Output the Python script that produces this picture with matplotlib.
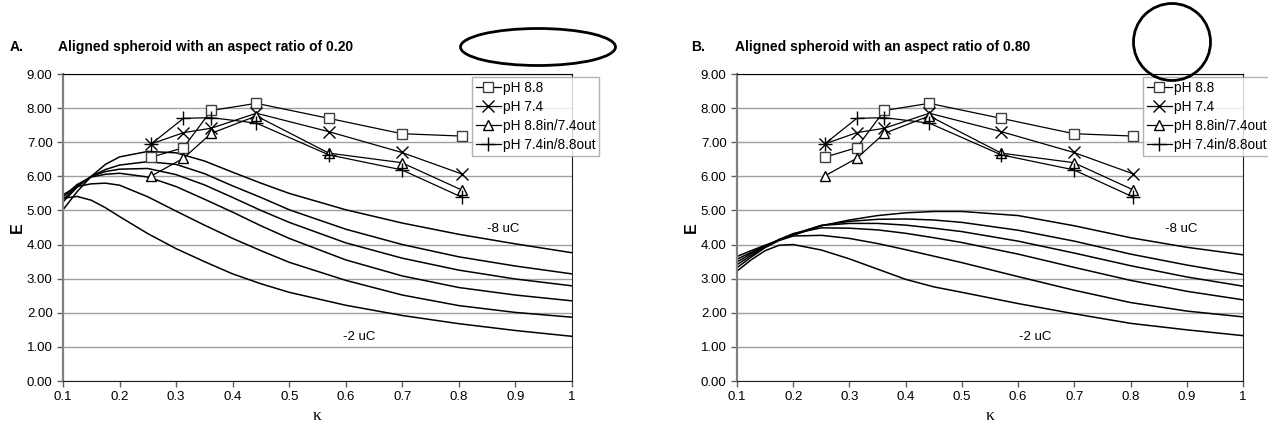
# Electrophoretic mobility E vs kappa for two aligned spheroids
import matplotlib.pyplot as plt
from matplotlib.patches import Ellipse

plt.rcParams['font.family'] = ['Liberation Sans', 'DejaVu Sans']

# kappa grid used for the charge curves
kx = [0.1, 0.125, 0.15, 0.175, 0.2, 0.25, 0.3, 0.35, 0.4, 0.45, 0.5, 0.6, 0.7, 0.8, 0.9, 1.0]

# panel A, aspect ratio 0.20, from -8 uC down to -2 uC
a_c1 = [5.02, 5.55, 6.00, 6.35, 6.57, 6.73, 6.69, 6.45, 6.12, 5.80, 5.50, 5.02, 4.63, 4.30, 4.02, 3.76]
a_c2 = [5.25, 5.68, 6.00, 6.20, 6.33, 6.43, 6.35, 6.08, 5.72, 5.38, 5.02, 4.45, 4.00, 3.64, 3.37, 3.14]
a_c3 = [5.32, 5.72, 6.00, 6.14, 6.21, 6.23, 6.05, 5.75, 5.38, 5.00, 4.65, 4.05, 3.60, 3.25, 2.99, 2.79]
a_c4 = [5.40, 5.76, 5.98, 6.06, 6.09, 5.98, 5.70, 5.33, 4.95, 4.55, 4.18, 3.55, 3.08, 2.74, 2.52, 2.35]
a_c5 = [5.46, 5.70, 5.78, 5.80, 5.74, 5.40, 4.98, 4.57, 4.18, 3.82, 3.48, 2.95, 2.52, 2.21, 2.01, 1.87]
a_c6 = [5.36, 5.41, 5.30, 5.08, 4.82, 4.32, 3.88, 3.50, 3.14, 2.85, 2.60, 2.22, 1.92, 1.68, 1.48, 1.31]

# panel B, aspect ratio 0.80
b_c1 = [3.65, 3.82, 3.98, 4.13, 4.27, 4.55, 4.72, 4.85, 4.93, 4.97, 4.97, 4.85, 4.55, 4.20, 3.92, 3.70]
b_c2 = [3.57, 3.77, 3.96, 4.14, 4.29, 4.56, 4.68, 4.74, 4.75, 4.72, 4.65, 4.42, 4.10, 3.72, 3.40, 3.12]
b_c3 = [3.49, 3.73, 3.94, 4.14, 4.31, 4.56, 4.62, 4.62, 4.57, 4.48, 4.38, 4.10, 3.75, 3.38, 3.05, 2.78]
b_c4 = [3.41, 3.68, 3.93, 4.15, 4.32, 4.49, 4.48, 4.43, 4.33, 4.20, 4.06, 3.72, 3.33, 2.95, 2.63, 2.38]
b_c5 = [3.32, 3.63, 3.91, 4.12, 4.25, 4.27, 4.18, 4.03, 3.85, 3.66, 3.47, 3.06, 2.66, 2.30, 2.05, 1.88]
b_c6 = [3.22, 3.55, 3.82, 3.98, 4.00, 3.84, 3.58, 3.28, 2.98, 2.76, 2.60, 2.27, 1.97, 1.69, 1.50, 1.33]

# measured points (same in both panels)
kappa = [0.256, 0.313, 0.362, 0.442, 0.570, 0.699, 0.805]
ph88 = [6.56, 6.84, 7.93, 8.14, 7.70, 7.25, 7.18]
ph74 = [6.95, 7.28, 7.41, 7.85, 7.31, 6.70, 6.07]
ph88in = [6.01, 6.53, 7.26, 7.77, 6.68, 6.40, 5.60]
ph74in = [6.95, 7.70, 7.72, 7.56, 6.63, 6.19, 5.39]

W, H = 1268, 426
fig = plt.figure(figsize=(W / 100, H / 100), dpi=100)


def make_panel(left, right, curves, title, letter, title_x, leg_x):
    ax = fig.add_axes([left / W, (H - 381) / H, (right - left) / W, (381 - 74) / H])
    for c in curves:
        ax.plot(kx, c, color='black', lw=1.1)
    ax.plot(kappa, ph88, color='black', lw=0.9, marker='s', ms=7, mfc='white',
            mec='#404040', mew=1, label='pH 8.8')
    ax.plot(kappa, ph74, color='black', lw=0.9, marker='x', ms=8, mew=1, label='pH 7.4')
    ax.plot(kappa, ph88in, color='black', lw=0.9, marker='^', ms=7, mfc='white',
            mew=1, label='pH 8.8in/7.4out')
    ax.plot(kappa, ph74in, color='black', lw=0.9, marker='+', ms=10, mew=1,
            label='pH 7.4in/8.8out')
    ax.set_xlim(0.1, 1.0)
    ax.set_ylim(0, 9)
    ax.set_xticks([0.1, 0.2, 0.3, 0.4, 0.5, 0.6, 0.7, 0.8, 0.9, 1.0])
    ax.set_xticklabels(['0.1', '0.2', '0.3', '0.4', '0.5', '0.6', '0.7', '0.8', '0.9', '1'])
    ax.set_yticks(range(10))
    ax.set_yticklabels(['%.2f' % v for v in range(10)])
    ax.grid(axis='y', color='#a0a0a0', lw=1)
    ax.set_axisbelow(True)
    ax.tick_params(labelsize=9.5, direction='out', length=4, width=1, color='#606060')
    ax.spines['left'].set_color('#808080')
    ax.spines['left'].set_linewidth(1.6)
    ax.spines['bottom'].set_color('#202020')
    ax.spines['top'].set_color('black')
    ax.spines['right'].set_color('#202020')
    ax.set_ylabel('E', fontweight='bold', fontsize=11.5, labelpad=1)
    ax.set_xlabel('κ', fontsize=12.5, family=['Liberation Serif', 'DejaVu Serif'], labelpad=3)
    fig.text(letter / W, 1 - 47 / H, title[0], fontweight='bold', fontsize=10, va='center')
    fig.text(title_x / W, 1 - 47 / H, title[1], fontweight='bold', fontsize=10, va='center')
    leg = ax.legend(loc='upper left', bbox_to_anchor=(leg_x / W, 1 - 77 / H),
                    bbox_transform=fig.transFigure, fontsize=9.8, frameon=True, fancybox=False,
                    edgecolor='#a0a0a0', handlelength=1.8, borderpad=0.3, labelspacing=0.36,
                    handletextpad=0.15, borderaxespad=0)
    leg.get_frame().set_linewidth(1)
    return ax


axA = make_panel(63, 572, [a_c1, a_c2, a_c3, a_c4, a_c5, a_c6],
                 ('A.', 'Aligned spheroid with an aspect ratio of 0.20'), 10, 58, 472)
axA.text(0.878, 4.46, '-8 uC', fontsize=9.5, ha='center', va='center')
axA.text(0.623, 1.29, '-2 uC', fontsize=9.5, ha='center', va='center')

axB = make_panel(737, 1243, [b_c1, b_c2, b_c3, b_c4, b_c5, b_c6],
                 ('B.', 'Aligned spheroid with an aspect ratio of 0.80'), 691, 735, 1143)
axB.text(0.89, 4.46, '-8 uC', fontsize=9.5, ha='center', va='center')
axB.text(0.63, 1.29, '-2 uC', fontsize=9.5, ha='center', va='center')

# shape sketches next to the titles
fig.add_artist(Ellipse((538 / W, 1 - 47 / H), 155 / W, 37 / H, fill=False, lw=2,
                       ec='black', transform=fig.transFigure))
fig.add_artist(Ellipse((1172 / W, 1 - 42 / H), 77 / W, 77 / H, fill=False, lw=2,
                       ec='black', transform=fig.transFigure))

fig.savefig('out.png', dpi=100)
